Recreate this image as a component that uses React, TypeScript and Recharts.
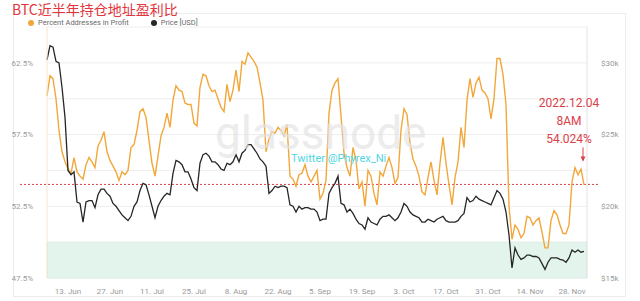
import React from 'react';
import {
  LineChart,
  Line,
  XAxis,
  YAxis,
  CartesianGrid,
  ReferenceArea,
  ReferenceLine,
  ReferenceDot,
} from 'recharts';

// day 0 = 6 Jun 2022, one point per day
const tickDays = [7, 21, 35, 49, 63, 77, 91, 105, 119, 133, 147, 161, 175];
const tickLabels = [
  '13. Jun', '27. Jun', '11. Jul', '25. Jul', '8. Aug', '22. Aug', '5. Sep',
  '19. Sep', '3. Oct', '17. Oct', '31. Oct', '14. Nov', '28. Nov',
];
const pctTicks = [47.5, 50, 52.5, 55, 57.5, 60, 62.5, 65];
const priceTicks = [15, 17.5, 20, 22.5, 25, 27.5, 30, 32.5];

// Percent Addresses in Profit (%)
const profitPct = [
  60.2, 61.6, 61.4, 60.0, 57.8, 56.3, 55.6, 55.1, 54.8, 55.9,
  54.9, 54.6, 54.4, 55.4, 55.9, 55.6, 55.2, 56.7, 57.1, 57.7,
  56.3, 55.7, 55.3, 54.9, 54.3, 54.9, 54.7, 55.0, 56.6, 56.8,
  57.8, 59.1, 59.3, 58.7, 57.1, 55.5, 54.6, 56.0, 57.4, 58.0,
  59.0, 58.0, 59.9, 60.9, 60.6, 60.5, 59.7, 59.6, 59.6, 58.3,
  58.1, 60.8, 61.7, 61.6, 60.9, 60.5, 60.6, 60.0, 59.4, 59.1,
  61.0, 59.8, 60.6, 62.0, 60.5, 62.6, 62.4, 63.2, 62.9, 62.6,
  62.2, 61.1, 59.9, 56.3, 57.2, 57.7, 57.6, 58.0, 57.8, 57.4,
  58.2, 54.6, 54.4, 53.9, 54.7, 54.8, 55.4, 54.6, 54.2, 54.6,
  55.0, 53.0, 53.4, 54.3, 59.0, 60.6, 61.1, 61.4, 58.8, 56.2,
  55.2, 54.6, 56.6, 55.7, 53.7, 54.2, 52.5, 55.0, 54.6, 53.4,
  52.6, 54.9, 54.6, 55.3, 55.9, 55.2, 54.1, 54.5, 57.8, 59.3,
  58.9, 56.9, 55.8, 55.3, 54.6, 53.5, 53.3, 54.5, 55.6, 54.3,
  53.3, 55.5, 57.3, 55.5, 54.0, 52.6, 54.5, 55.6, 58.0, 56.6,
  59.9, 61.4, 60.1, 61.1, 61.5, 60.6, 60.4, 60.0, 58.6, 60.0,
  62.8, 62.8, 61.7, 59.6, 52.5, 50.2, 51.2, 50.9, 50.3, 50.6,
  51.8, 51.7, 51.2, 51.5, 51.7, 50.7, 49.6, 49.6, 51.5, 52.2,
  51.9, 51.2, 50.6, 50.6, 51.2, 54.2, 55.2, 54.7, 55.1, 54.0,
];

// Price [USD], thousands
const priceK = [
  30.2, 31.2, 31.1, 30.1, 30.0, 28.3, 26.2, 22.5, 22.2, 22.4,
  20.3, 20.2, 18.9, 20.3, 20.4, 20.4, 19.9, 20.8, 21.2, 21.2,
  20.9, 20.7, 20.2, 20.0, 19.7, 19.4, 19.2, 19.0, 19.3, 20.0,
  20.3, 21.1, 21.6, 21.5, 20.8, 20.0, 19.2, 20.0, 20.4, 20.7,
  20.9, 20.8, 22.3, 23.2, 23.1, 22.9, 22.4, 22.4, 21.9, 21.3,
  21.1, 23.0, 23.6, 23.7, 23.5, 23.1, 23.1, 22.9, 22.6, 22.5,
  23.0, 22.9, 23.1, 23.6, 23.1, 23.7, 23.9, 24.3, 24.3, 24.0,
  23.7, 23.3, 23.1, 22.8, 20.9, 21.1, 21.4, 21.3, 21.4, 21.4,
  21.3, 20.1, 20.0, 19.6, 20.0, 19.8, 19.9, 19.9, 19.8, 19.8,
  19.6, 19.0, 19.1, 19.1, 20.9, 21.3, 21.6, 22.1, 20.2, 20.1,
  19.6, 19.8, 19.5, 19.1, 18.8, 18.7, 18.4, 19.2, 18.9, 18.8,
  18.7, 19.1, 19.3, 19.3, 19.4, 19.2, 19.0, 19.2, 19.6, 20.2,
  20.0, 19.6, 19.4, 19.3, 19.2, 18.9, 18.9, 19.1, 19.0, 18.9,
  19.1, 19.2, 19.3, 19.0, 18.9, 18.9, 18.9, 19.0, 19.3, 19.5,
  20.6, 20.3, 20.4, 20.7, 20.5, 20.4, 20.3, 20.2, 20.1, 20.6,
  21.1, 20.9, 20.5, 19.6, 18.0, 15.7, 17.1, 16.6, 16.3, 16.4,
  16.6, 16.6, 16.5, 16.5, 16.4, 16.0, 15.6, 16.1, 16.4, 16.4,
  16.4, 16.3, 16.25, 16.1, 16.4, 16.95, 16.8, 16.95, 16.8, 16.85,
];

const lastDay = 179;
const lastPct = 54.024;
const noteLines = ['2022.12.04', '8AM', '54.024%'];

const ORANGE = '#f2a73b';
const BLACK = '#262626';
const RED = '#db4048';
const AXIS_FONT = { fill: '#9a9a9a', fontSize: 8, fontFamily: 'Roboto, sans-serif' };

const data = profitPct.map((pct, i) => ({ day: i, pct, price: priceK[i] }));

const dot = (c: string) => (
  <span style={{ display: 'inline-block', width: 6, height: 6, borderRadius: 3, background: c, marginRight: 4, verticalAlign: 'middle' }} />
);

// dotted level line, drawn a bit past both plot edges like the hand-made mark
const LevelLine = (p: any) => (
  <line x1={p.x1 - 27} y1={p.y1} x2={p.x2 + 12} y2={p.y2} stroke={RED} strokeWidth={1} strokeDasharray="2 2" />
);

const Note = (p: any) => {
  const { cx, cy } = p;
  return (
    <g fontFamily="Roboto, sans-serif" fontSize={12} fill={RED} textAnchor="middle">
      {noteLines.map((t, i) => (
        <text key={t} x={cx - 15} y={cy - 77 + i * 18}>{t}</text>
      ))}
      <line x1={cx - 1} y1={cy - 37} x2={cx - 1} y2={cy - 24} stroke={RED} strokeWidth={1} />
      <path d={`M${cx - 3.5},${cy - 28} L${cx - 1},${cy - 23} L${cx + 1.5},${cy - 28} Z`} fill={RED} />
    </g>
  );
};

export default function App() {
  return (
    <div style={{ position: 'fixed', left: 0, top: 0, width: 640, height: 301, background: '#fff', overflow: 'hidden' }}>
      <div style={{ position: 'absolute', left: 13, top: 13, width: 611, height: 282, border: '1px solid #ececec' }} />
      <LineChart width={640} height={301} data={data} margin={{ top: 27, right: 0, bottom: 0, left: 0 }}>
        <CartesianGrid yAxisId="pct" vertical={false} stroke="#eeeeee" />
        <ReferenceArea yAxisId="pct" y1={47.5} y2={50} fill="#e2f4ec" fillOpacity={1} stroke="#cfe9dd" strokeWidth={0.5} />
        <XAxis
          dataKey="day"
          type="number"
          domain={[0, 180]}
          ticks={tickDays}
          tickFormatter={(v: number) => tickLabels[tickDays.indexOf(v)] ?? ''}
          axisLine={false}
          tickLine={false}
          tickMargin={4}
          height={23}
          tick={AXIS_FONT}
        />
        <YAxis
          yAxisId="pct"
          orientation="left"
          width={47}
          domain={[47.5, 65]}
          ticks={pctTicks}
          tickFormatter={(v: number) => ((v - 47.5) % 5 === 0 && v < 65 ? `${v}%` : '')}
          axisLine={{ stroke: '#f8e4c9' }}
          tickLine={false}
          tickMargin={8}
          tick={AXIS_FONT}
        />
        <YAxis
          yAxisId="price"
          orientation="right"
          width={53}
          domain={[15, 32.5]}
          ticks={priceTicks}
          tickFormatter={(v: number) => (v % 5 === 0 ? `$${v}k` : '')}
          axisLine={{ stroke: '#e2e2e2' }}
          tickLine={false}
          tickMargin={8}
          tick={AXIS_FONT}
        />
        <ReferenceLine yAxisId="pct" y={lastPct} shape={LevelLine} />
        <Line yAxisId="pct" dataKey="pct" stroke={ORANGE} strokeWidth={1.4} dot={false} isAnimationActive={false} />
        <Line yAxisId="price" dataKey="price" stroke={BLACK} strokeWidth={1.3} dot={false} isAnimationActive={false} />
        <ReferenceDot yAxisId="pct" x={lastDay} y={lastPct} r={0} shape={Note} />
      </LineChart>
      <div style={{ position: 'absolute', left: 28, top: 18, display: 'flex', gap: 22, fontFamily: 'Roboto, sans-serif', fontSize: 7.5, lineHeight: '10px', color: '#6a6a6a' }}>
        <span>{dot(ORANGE)}Percent Addresses in Profit</span>
        <span>{dot(BLACK)}Price [USD]</span>
      </div>
      <div style={{ position: 'absolute', left: 215, top: 106, fontFamily: 'Roboto, sans-serif', fontSize: 46, color: '#e4e4e4', opacity: 0.7, pointerEvents: 'none' }}>
        glassnode
      </div>
      <div style={{ position: 'absolute', left: 291, top: 152, fontFamily: 'Roboto, sans-serif', fontSize: 11, color: '#4fd6e2' }}>
        Twitter @Phyrex_Ni
      </div>
      <div style={{ position: 'absolute', left: 12, top: 1, fontFamily: '"Noto Sans CJK SC", sans-serif', fontSize: 14, color: '#e2353c', lineHeight: '16px' }}>
        BTC近半年持仓地址盈利比
      </div>
    </div>
  );
}
